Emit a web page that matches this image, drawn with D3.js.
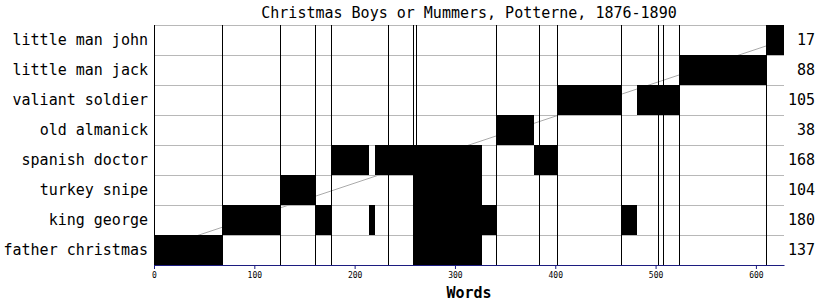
<!DOCTYPE html>
<html>
<head>
<meta charset="utf-8">
<script src="https://cdn.jsdelivr.net/npm/d3@7"></script>
<style>
  body { margin: 0; background: #fff; }
  text { font-family: "DejaVu Sans Mono", monospace; }
</style>
</head>
<body>
<div id="chart"></div>
<script>
// characters, top row first
var characters = ["little man john", "little man jack", "valiant soldier", "old almanick",
  "spanish doctor", "turkey snipe", "king george", "father christmas"];
var totals = [17, 88, 105, 38, 168, 104, 180, 137];

// speech spans in words [start, end]
var speeches = [
  ["father christmas", 0, 68], ["father christmas", 258, 327],
  ["king george", 68, 126], ["king george", 160, 176], ["king george", 214, 220],
  ["king george", 258, 341], ["king george", 466, 481],
  ["turkey snipe", 126, 160], ["turkey snipe", 258, 327],
  ["spanish doctor", 176, 214], ["spanish doctor", 220, 327], ["spanish doctor", 379, 402],
  ["old almanick", 341, 379],
  ["valiant soldier", 402, 466], ["valiant soldier", 481, 523],
  ["little man jack", 523, 610],
  ["little man john", 610, 628]
];

// section boundaries
var breaks = [68, 126, 160, 176, 233, 258, 261, 341, 384, 402, 466, 502, 507, 523, 610];
var totalWords = 628;
var xTicks = [0, 100, 200, 300, 400, 500, 600];

var svgWidth = 821, svgHeight = 305;
var margin = { top: 25, right: 37, bottom: 40, left: 154 };
var width = svgWidth - margin.left - margin.right;
var height = svgHeight - margin.top - margin.bottom;

var svg = d3.select("#chart").append("svg")
  .attr("width", svgWidth)
  .attr("height", svgHeight);

var x = d3.scaleLinear().domain([0, totalWords]).range([0, width]);
var y = d3.scaleBand().domain(characters).range([0, height]).padding(0);

var g = svg.append("g")
  .attr("transform", "translate(" + margin.left + "," + margin.top + ")");

// title
svg.append("text")
  .attr("x", margin.left + width / 2)
  .attr("y", 18)
  .attr("text-anchor", "middle")
  .style("font-size", "15px")
  .text("Christmas Boys or Mummers, Potterne, 1876-1890");

// horizontal gridlines at row boundaries
g.append("g")
  .selectAll("line")
  .data(characters)
  .enter().append("line")
  .attr("x1", 0).attr("x2", width)
  .attr("y1", d => y(d) + 0.5).attr("y2", d => y(d) + 0.5)
  .attr("stroke", "#b8b8b8");

// diagonal from first to last speaker
var first = characters[characters.length - 1], last = characters[0];
g.append("line")
  .attr("x1", x(0)).attr("y1", y(first) + y.bandwidth() / 2)
  .attr("x2", x(totalWords)).attr("y2", y(last) + y.bandwidth() / 2)
  .attr("stroke", "#aaaaaa");

// section lines
g.append("g")
  .selectAll("line")
  .data(breaks)
  .enter().append("line")
  .attr("x1", d => Math.round(x(d)) + 0.5).attr("x2", d => Math.round(x(d)) + 0.5)
  .attr("y1", 0).attr("y2", height)
  .attr("stroke", "#000");

// speech bars
g.append("g")
  .selectAll("rect")
  .data(speeches)
  .enter().append("rect")
  .attr("x", d => Math.round(x(d[1])))
  .attr("width", d => Math.round(x(d[2])) - Math.round(x(d[1])))
  .attr("y", d => y(d[0]))
  .attr("height", y.bandwidth())
  .attr("fill", "#000");

// left edge
g.append("line")
  .attr("x1", 0.5).attr("x2", 0.5)
  .attr("y1", 0).attr("y2", height)
  .attr("stroke", "#000");

// character labels
g.append("g")
  .selectAll("text")
  .data(characters)
  .enter().append("text")
  .attr("x", -6)
  .attr("y", d => y(d) + y.bandwidth() / 2)
  .attr("dy", "0.36em")
  .attr("text-anchor", "end")
  .style("font-size", "15px")
  .text(d => d);

// word totals
g.append("g")
  .selectAll("text")
  .data(characters)
  .enter().append("text")
  .attr("x", width + 31)
  .attr("y", d => y(d) + y.bandwidth() / 2)
  .attr("dy", "0.36em")
  .attr("text-anchor", "end")
  .style("font-size", "15px")
  .text((d, i) => totals[i]);

// x axis
var xAxis = g.append("g")
  .attr("transform", "translate(0," + height + ")")
  .call(d3.axisBottom(x).tickValues(xTicks).tickSize(4).tickSizeOuter(0));
xAxis.select(".domain").attr("stroke", "#1c1c80");
xAxis.selectAll(".tick line").attr("stroke", "#1c1c80");
xAxis.selectAll(".tick text")
  .attr("y", 7)
  .style("font-family", "'DejaVu Sans Mono', monospace")
  .style("font-size", "8px");

svg.append("text")
  .attr("x", margin.left + width / 2)
  .attr("y", 298)
  .attr("text-anchor", "middle")
  .style("font-size", "15px")
  .style("font-weight", "bold")
  .text("Words");
</script>
</body>
</html>
